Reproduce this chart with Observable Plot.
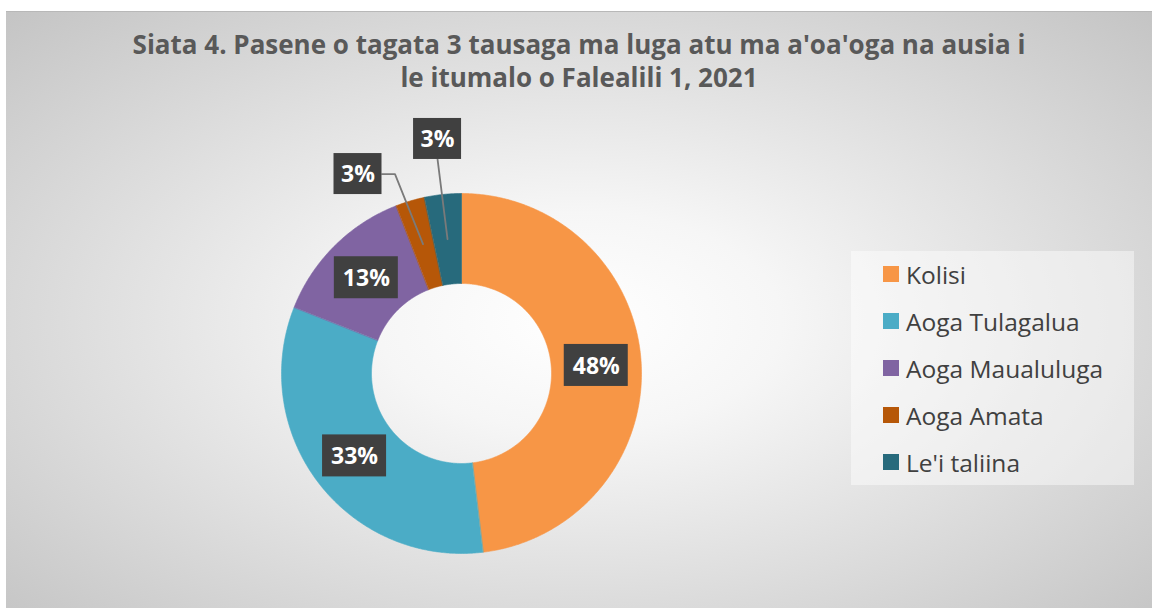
<!DOCTYPE html>
<html><head><meta charset="utf-8">
<script src="https://cdn.jsdelivr.net/npm/d3@7"></script>
<script src="https://cdn.jsdelivr.net/npm/@observablehq/plot@0.6"></script>
<style>
body{margin:0;background:#fff;font-family:"Open Sans",Lato,sans-serif;}
#frame{position:absolute;left:6px;top:11px;width:1146px;height:597px;overflow:hidden;
  background:radial-gradient(ellipse farthest-corner at 50% 52%, #ffffff 0%, #f6f6f6 25%, #c4c4c4 100%);
  box-shadow:inset 0 1px 0 #b8b8b8;}
#title{height:89px;box-sizing:border-box;padding-top:17px;text-align:center;color:#595959;
  font-weight:bold;font-size:26px;line-height:33px;}
#legend{position:absolute;left:845px;top:240px;width:283px;height:234px;background:rgba(255,255,255,0.45);}
.item{position:absolute;left:32px;height:30px;display:flex;align-items:center;font-size:24.5px;color:#404040;}
.sw{width:16px;height:16px;margin-right:7px;}
svg{display:block;}
</style></head>
<body>
<div id="frame">
  <div id="title">Siata 4. Pasene o tagata 3 tausaga ma luga atu ma a'oa'oga na ausia i<br>le itumalo o Falealili 1, 2021</div>
  <div id="chart"></div>
  <div id="legend"></div>
</div>
<script>
const categories = ["Kolisi", "Aoga Tulagalua", "Aoga Maualuluga", "Aoga Amata", "Le'i taliina"];
const shares = [48.1, 32.9, 13.1, 2.6, 3.3];
const colors = ["#F79646", "#4BACC6", "#8064A2", "#B65708", "#276A7C"];

// layout (not data)
const W = 1146, H = 508, cx = 455, cy = 273, R = 180, inner = 0.5;
const movedLabels = {"Aoga Amata": {x: -0.575, y: -1.108}, "Le'i taliina": {x: -0.133, y: -1.303}};

const total = d3.sum(shares);
let acc = 0;
const slices = categories.map((c, i) => {
  const a0 = acc / total * 2 * Math.PI;
  acc += shares[i];
  const a1 = acc / total * 2 * Math.PI;
  return {cat: c, value: shares[i], a0, a1, pct: Math.round(shares[i] / total * 100) + "%"};
});
const pt = (a, r) => ({x: Math.sin(a) * r, y: -Math.cos(a) * r});
const poly = [];
for (const s of slices) {
  const n = Math.max(4, Math.ceil((s.a1 - s.a0) / (Math.PI / 360)));
  for (let k = 0; k <= n; k++) poly.push({cat: s.cat, ...pt(s.a0 + (s.a1 - s.a0) * k / n, 1)});
  for (let k = n; k >= 0; k--) poly.push({cat: s.cat, ...pt(s.a0 + (s.a1 - s.a0) * k / n, inner)});
}
const mid = (inner + 1) / 2;
const labels = slices.map(s => {
  const m = pt((s.a0 + s.a1) / 2, mid);
  const c = movedLabels[s.cat] || m;
  const w = (16 + 16 * s.pct.length) / R, h = (s.pct.length > 2 ? 42 : 41) / R;
  return {...s, mx: m.x, my: m.y, x: c.x, y: c.y, w, h, moved: !!movedLabels[s.cat]};
});
const leaders = [];
for (const l of labels.filter(d => d.moved)) {
  if (Math.abs(l.mx - l.x) < l.w / 2) {
    leaders.push({id: l.cat, x: l.x, y: l.y + l.h / 2});
    leaders.push({id: l.cat, x: l.mx, y: l.my});
  } else {
    const sgn = Math.sign(l.mx - l.x);
    leaders.push({id: l.cat, x: l.x + sgn * l.w / 2, y: l.y});
    leaders.push({id: l.cat, x: l.x + sgn * (l.w / 2 + 13 / R), y: l.y});
    leaders.push({id: l.cat, x: l.mx, y: l.my});
  }
}

const chart = Plot.plot({
  width: W, height: H, margin: 0,
  style: {background: "transparent", overflow: "visible"},
  x: {domain: [-cx / R, (W - cx) / R], range: [0, W], axis: null},
  y: {domain: [-cy / R, (H - cy) / R], range: [0, H], axis: null},
  color: {domain: categories, range: colors},
  marks: [
    Plot.line(poly, {x: "x", y: "y", z: "cat", fill: "cat", stroke: "cat", strokeWidth: 0.6, curve: "linear-closed"}),
    Plot.line(leaders, {x: "x", y: "y", z: "id", stroke: "#7a7a7a", strokeWidth: 1.8}),
    Plot.rect(labels, {x1: d => d.x - d.w / 2, x2: d => d.x + d.w / 2, y1: d => d.y - d.h / 2, y2: d => d.y + d.h / 2,
      fill: "#404040", ariaLabel: "label-box"}),
    Plot.text(labels, {x: "x", y: "y", text: "pct", fill: "white", fontWeight: "bold", fontSize: 23,
      fontFamily: "'Open Sans', Lato, sans-serif", dy: 1})
  ]
});
chart.querySelectorAll('g[aria-label="label-box"]').forEach(g => g.style.filter = "drop-shadow(3px 3px 3px rgba(0,0,0,0.45))");
document.getElementById("chart").appendChild(chart);

const lg = document.getElementById("legend");
categories.forEach((c, i) => {
  const it = document.createElement("div");
  it.className = "item";
  it.style.top = (23 + 47 * i - 15) + "px";
  it.innerHTML = `<span class="sw" style="background:${colors[i]}"></span><span></span>`;
  it.lastChild.textContent = c;
  lg.appendChild(it);
});
</script>
</body></html>
